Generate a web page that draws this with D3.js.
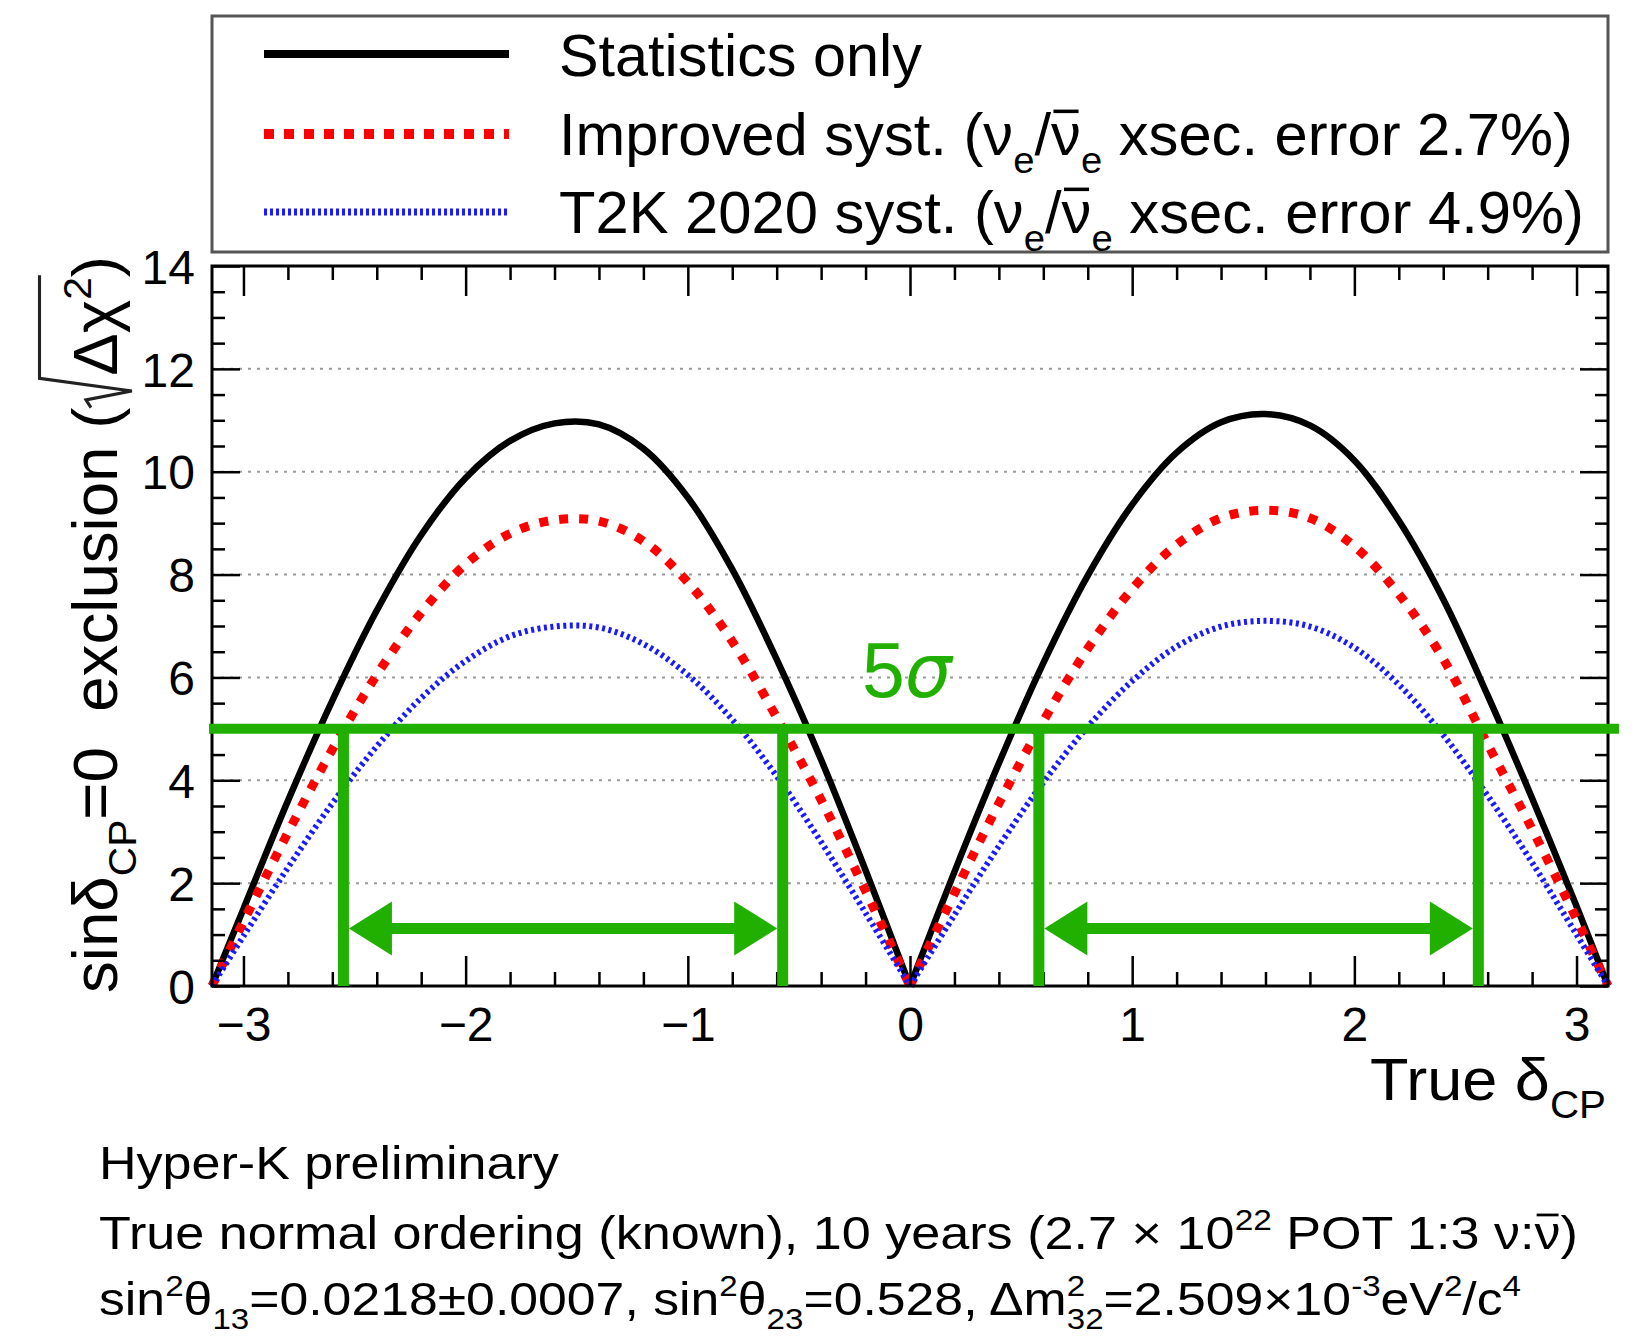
<!DOCTYPE html>
<html>
<head>
<meta charset="utf-8">
<script src="https://cdnjs.cloudflare.com/ajax/libs/d3/7.8.5/d3.min.js"></script>
<style>
  body { margin: 0; background: #fff; }
  svg { display: block; }
  text { white-space: pre; }
</style>
</head>
<body>
<div id="chart"></div>
<script>
// true delta_CP (rad) and sqrt(delta chi^2)
var deltaCP = [-3.1416, -3.0, -2.8, -2.6, -2.4, -2.2, -2.0, -1.8, -1.6, -1.4, -1.2, -1.0, -0.8, -0.6, -0.4, -0.2, 0,
               0.2, 0.4, 0.6, 0.8, 1.0, 1.2, 1.4, 1.6, 1.8, 2.0, 2.2, 2.4, 2.6, 2.8, 3.0, 3.1416];
var statOnly = [0, 1.5, 3.6, 5.55, 7.3, 8.77, 9.88, 10.6, 10.94, 10.92, 10.45, 9.5, 8.1, 6.35, 4.4, 2.25, 0,
                2.22, 4.33, 6.28, 7.98, 9.36, 10.37, 10.96, 11.12, 10.9, 10.22, 9.05, 7.52, 5.65, 3.65, 1.55, 0];
var improvedSyst = [0, 1.25, 2.98, 4.6, 6.05, 7.26, 8.2, 8.8, 9.06, 9.04, 8.65, 7.85, 6.7, 5.22, 3.62, 1.85, 0,
                    1.8, 3.55, 5.15, 6.56, 7.72, 8.58, 9.1, 9.25, 9.1, 8.55, 7.62, 6.36, 4.7, 3.05, 1.3, 0];
var t2kSyst = [0, 0.97, 2.3, 3.55, 4.66, 5.6, 6.32, 6.8, 6.99, 6.97, 6.65, 6.05, 5.18, 4.08, 2.8, 1.42, 0,
               1.38, 2.72, 3.96, 5.04, 5.93, 6.6, 6.99, 7.1, 6.99, 6.58, 5.86, 4.88, 3.7, 2.4, 1.0, 0];

var xTicks = [-3, -2, -1, 0, 1, 2, 3];
var yTicks = [0, 2, 4, 6, 8, 10, 12, 14];

// 5 sigma line and the delta_CP ranges it excludes
var fiveSigma = 5;
var fiveSigmaBounds = [-2.55, -0.573, 0.58, 2.558];
var arrowLevel = 1.12;

var legendLabels = [
    [{t: "Statistics only"}],
    [{t: "Improved syst. (ν"}, {t: "e", sub: true}, {t: "/"}, {t: "ν", bar: true}, {t: "e", sub: true}, {t: " xsec. error 2.7%)"}],
    [{t: "T2K 2020 syst. (ν"}, {t: "e", sub: true}, {t: "/"}, {t: "ν", bar: true}, {t: "e", sub: true}, {t: " xsec. error 4.9%)"}]
];
var captionLines = [
    [{t: "Hyper-K preliminary"}],
    [{t: "True normal ordering (known), 10 years (2.7 × 10"}, {t: "22", sup: true}, {t: " POT 1:3 ν:"}, {t: "ν", bar: true}, {t: ")"}],
    [{t: "sin"}, {t: "2", sup: true}, {t: "θ"}, {t: "13", sub: true}, {t: "=0.0218±0.0007, sin"}, {t: "2", sup: true},
     {t: "θ"}, {t: "23", sub: true}, {t: "=0.528, Δm"}, {t: "2", sup: true, hold: true}, {t: "32", sub: true},
     {t: "=2.509×10"}, {t: "-3", sup: true}, {t: "eV"}, {t: "2", sup: true}, {t: "/c"}, {t: "4", sup: true}]
];
var yTitle = [{t: "sinδ"}, {t: "CP", sub: true}, {t: "=0  exclusion ("}, {radStart: true}, {t: "Δχ"}, {t: "2", sup: true}, {radEnd: true}, {t: ")"}];
var xTitle = [{t: "True δ"}, {t: "CP", sub: true}];

function init(){

    var W = 1639, H = 1338;
    var left = 212, right = 1608, top = 266, bottom = 986;
    var font = "'Liberation Sans', Arial, Helvetica, sans-serif";
    var green = "#22b000";

    var svg = d3.select("#chart")
                .append("svg")
                .attr("width", W)
                .attr("height", H)
                .attr("font-family", font);

    var xScale = d3.scaleLinear()
                    .domain([-Math.PI, Math.PI])
                    .range([left, right]);
    var yScale = d3.scaleLinear()
                    .domain([0, 14])
                    .range([bottom, top]);

    // lay out text pieces (sub/sup, overbar, radical) one after the other
    function richText(parent, parts, size){
        var g = parent.append("g");
        var cx = 0, holdW = 0, radX = 0;
        parts.forEach(function(p){
            if (p.radStart) {
                radX = cx;
                cx += size * 0.5;
                return;
            }
            if (p.radEnd) {
                g.append("path")
                    .attr("d", "M" + radX + "," + (-size * 0.42) +
                               "L" + (radX + size * 0.12) + "," + (-size * 0.5) +
                               "L" + (radX + size * 0.26) + "," + (size * 0.24) +
                               "L" + (radX + size * 0.46) + "," + (-size * 1.25) +
                               "L" + (cx + 2) + "," + (-size * 1.25))
                    .attr("fill", "none")
                    .attr("stroke", "#222")
                    .attr("stroke-width", size * 0.05);
                return;
            }
            var fs = size, dy = 0;
            if (p.sup) { fs = size * 0.64; dy = -size * 0.42; }
            if (p.sub) { fs = size * 0.64; dy = size * 0.3; }
            var t = g.append("text")
                .attr("x", cx)
                .attr("y", dy)
                .attr("font-size", fs)
                .text(p.t);
            var w = t.node().getComputedTextLength();
            if (p.bar) {
                g.append("line")
                    .attr("x1", cx + w * 0.08).attr("x2", cx + w * 0.92)
                    .attr("y1", -size * 0.74).attr("y2", -size * 0.74)
                    .attr("stroke", "#000")
                    .attr("stroke-width", size * 0.06);
            }
            if (p.hold) {
                holdW = w;
                return;
            }
            cx += Math.max(w, holdW);
            holdW = 0;
        });
        return {g: g, width: cx};
    }

    function placeText(parts, size, x, y, opt){
        opt = opt || {};
        var r = richText(svg, parts, size);
        var sx = opt.width ? opt.width / r.width : 1;
        var tr = "translate(" + x + "," + y + ")";
        if (opt.rotate) tr += " rotate(-90)";
        tr += " scale(" + sx + ",1)";
        if (opt.anchor == "end") tr += " translate(" + (-r.width) + ",0)";
        r.g.attr("transform", tr).attr("fill", opt.fill || "#000");
        return r;
    }

    // dotted horizontal grid
    svg.selectAll(".grid")
        .data(yTicks.filter(function(d){ return d > 0 && d < 14; }))
        .enter()
        .append("line")
        .attr("class", "grid")
        .attr("x1", left)
        .attr("x2", right)
        .attr("y1", function(d){ return yScale(d); })
        .attr("y2", function(d){ return yScale(d); })
        .attr("stroke", "#9a9a9a")
        .attr("stroke-width", 2)
        .attr("stroke-dasharray", "3,6");

    // curves, each lobe drawn on its own so the cusp at 0 stays sharp
    var series = [
        {values: statOnly, color: "#000000", width: 6.5, dash: null},
        {values: improvedSyst, color: "#ff0000", width: 9, dash: "9,11"},
        {values: t2kSyst, color: "#1a1aff", width: 6, dash: "3,3.5"}
    ];
    var line = d3.line()
                .x(function(d){ return xScale(d[0]); })
                .y(function(d){ return yScale(d[1]); })
                .curve(d3.curveCatmullRom.alpha(0.5));
    var mid = deltaCP.indexOf(0);
    series.forEach(function(s){
        var pts = deltaCP.map(function(d, i){ return [d, s.values[i]]; });
        [pts.slice(0, mid + 1), pts.slice(mid)].forEach(function(lobe){
            svg.append("path")
                .attr("d", line(lobe))
                .attr("fill", "none")
                .attr("stroke", s.color)
                .attr("stroke-width", s.width)
                .attr("stroke-dasharray", s.dash);
        });
    });

    // axes: ticks on all four sides pointing inwards
    var xMinor = d3.range(-30, 31, 2).map(function(d){ return d / 10; })
                    .filter(function(d){ return Math.round(d) != d; });
    var yMinor = d3.range(1, 28).map(function(d){ return d / 2; })
                    .filter(function(d){ return d % 2 != 0; });
    function fmt(d){ return d < 0 ? "\u2212" + (-d) : "" + d; }

    var axes = [
        {g: d3.axisBottom(xScale).tickValues(xTicks).tickSize(-30).tickPadding(21).tickFormat(fmt), at: [0, bottom]},
        {g: d3.axisBottom(xScale).tickValues(xMinor).tickSize(-14).tickFormat(""), at: [0, bottom]},
        {g: d3.axisTop(xScale).tickValues(xTicks).tickSize(-30).tickFormat(""), at: [0, top]},
        {g: d3.axisTop(xScale).tickValues(xMinor).tickSize(-14).tickFormat(""), at: [0, top]},
        {g: d3.axisLeft(yScale).tickValues(yTicks).tickSize(-28).tickPadding(17), at: [left, 0]},
        {g: d3.axisLeft(yScale).tickValues(yMinor).tickSize(-13).tickFormat(""), at: [left, 0]},
        {g: d3.axisRight(yScale).tickValues(yTicks).tickSize(-28).tickFormat(""), at: [right, 0]},
        {g: d3.axisRight(yScale).tickValues(yMinor).tickSize(-13).tickFormat(""), at: [right, 0]}
    ];
    axes.forEach(function(a){
        var g = svg.append("g")
            .attr("transform", "translate(" + a.at[0] + "," + a.at[1] + ")")
            .call(a.g);
        g.select(".domain").remove();
        g.selectAll("line").attr("stroke", "#000").attr("stroke-width", 2.5);
        g.selectAll("text")
            .attr("font-family", font)
            .attr("font-size", 48)
            .attr("fill", "#000");
    });
    svg.selectAll(".tick text").filter(function(){ return d3.select(this).attr("dy") == "0.32em"; })
        .attr("dy", "0.36em");

    // frame
    svg.append("rect")
        .attr("x", left).attr("y", top)
        .attr("width", right - left).attr("height", bottom - top)
        .attr("fill", "none")
        .attr("stroke", "#000")
        .attr("stroke-width", 3);

    // axis titles
    placeText(yTitle, 62, 117, 993, {rotate: true, width: 737});
    placeText(xTitle, 60, 1606, 1100, {anchor: "end", width: 236});

    // 5 sigma annotation
    svg.append("line")
        .attr("x1", left - 3)
        .attr("x2", right + 11)
        .attr("y1", yScale(fiveSigma))
        .attr("y2", yScale(fiveSigma))
        .attr("stroke", green)
        .attr("stroke-width", 10);
    svg.selectAll(".bound")
        .data(fiveSigmaBounds)
        .enter()
        .append("line")
        .attr("class", "bound")
        .attr("x1", function(d){ return xScale(d); })
        .attr("x2", function(d){ return xScale(d); })
        .attr("y1", yScale(fiveSigma))
        .attr("y2", yScale(0))
        .attr("stroke", green)
        .attr("stroke-width", 11);

    var ay = yScale(arrowLevel), headL = 43, headH = 27;
    [[fiveSigmaBounds[0], fiveSigmaBounds[1]], [fiveSigmaBounds[2], fiveSigmaBounds[3]]].forEach(function(pair){
        var x0 = xScale(pair[0]) + 5.5, x1 = xScale(pair[1]) - 5.5;
        svg.append("line")
            .attr("x1", x0 + headL - 2).attr("x2", x1 - headL + 2)
            .attr("y1", ay).attr("y2", ay)
            .attr("stroke", green)
            .attr("stroke-width", 11);
        svg.append("path")
            .attr("d", "M" + x0 + "," + ay + "L" + (x0 + headL) + "," + (ay - headH) + "L" + (x0 + headL) + "," + (ay + headH) + "Z" +
                       "M" + x1 + "," + ay + "L" + (x1 - headL) + "," + (ay - headH) + "L" + (x1 - headL) + "," + (ay + headH) + "Z")
            .attr("fill", green);
    });

    var sig = svg.append("text")
        .attr("x", 862)
        .attr("y", 697)
        .attr("font-size", 77)
        .attr("fill", green)
        .attr("font-family", "Arial, 'Liberation Sans', sans-serif");
    sig.append("tspan").text("5");
    sig.append("tspan")
        .attr("font-style", "italic")
        .attr("font-family", "'DejaVu Sans', sans-serif")
        .attr("font-size", 74)
        .text("σ");

    // legend
    svg.append("rect")
        .attr("x", 212).attr("y", 16)
        .attr("width", 1396).attr("height", 236)
        .attr("fill", "#fff")
        .attr("stroke", "#555")
        .attr("stroke-width", 3);
    var legendY = [54, 134, 212];
    var legendBase = [76, 155, 233];
    var legendWidth = [363, 1014, 1025];
    var legendDash = [null, "10,10", "3,3"];
    series.forEach(function(s, i){
        svg.append("line")
            .attr("x1", 264).attr("x2", 509)
            .attr("y1", legendY[i]).attr("y2", legendY[i])
            .attr("stroke", s.color)
            .attr("stroke-width", i == 0 ? 8 : s.width + 1)
            .attr("stroke-dasharray", legendDash[i]);
        placeText(legendLabels[i], 59, 559, legendBase[i], {width: legendWidth[i]});
    });

    // caption under the plot
    var capBase = [1179, 1249, 1315];
    var capWidth = [460, 1479, 1422];
    captionLines.forEach(function(parts, i){
        placeText(parts, 46, 99, capBase[i], {width: capWidth[i]});
    });
}

window.onload = init;
</script>
</body>
</html>
